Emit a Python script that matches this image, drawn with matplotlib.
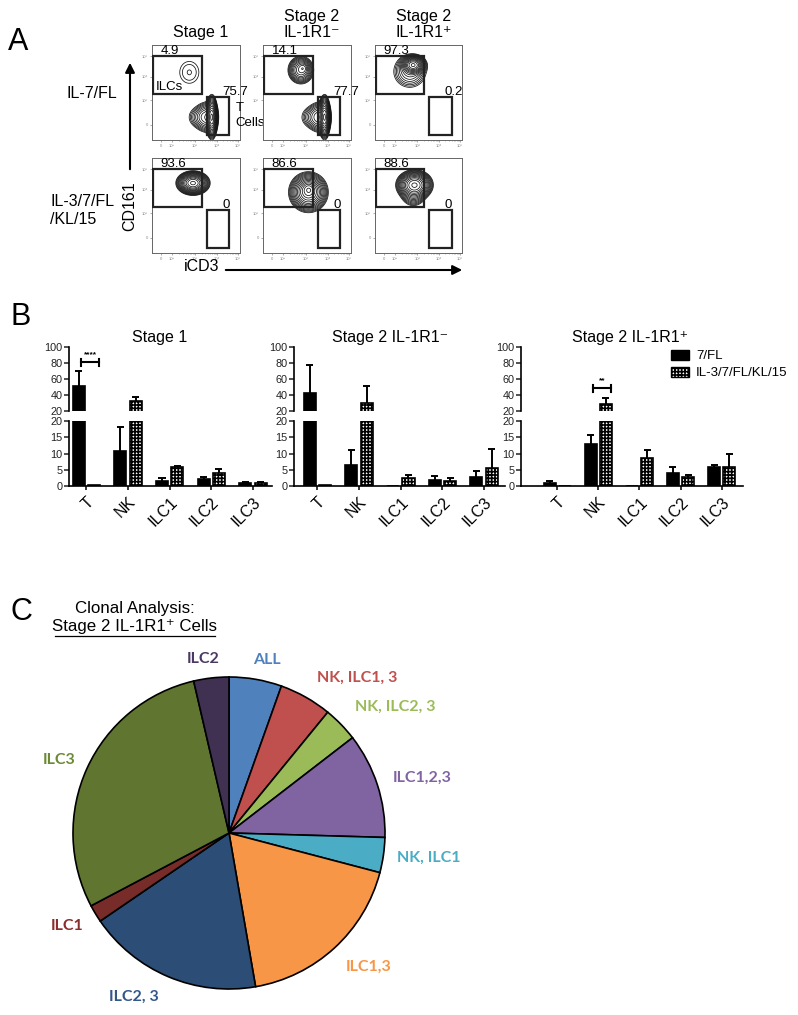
import numpy as np
import matplotlib
matplotlib.use("Agg")
import matplotlib.pyplot as plt
import matplotlib.transforms as mtrans
from matplotlib.patches import Rectangle, Patch, FancyArrowPatch
from matplotlib.lines import Line2D

plt.rcParams['font.family'] = ['Liberation Sans', 'DejaVu Sans']
plt.rcParams['hatch.linewidth'] = 1.2

W, H = 798, 1015
fig = plt.figure(figsize=(W / 100, H / 100), dpi=100)
fig.patch.set_facecolor('white')


def fax(x0, y0, x1, y1):
    return fig.add_axes([x0 / W, 1 - y1 / H, (x1 - x0) / W, (y1 - y0) / H])


def ftext(x, y, s, **kw):
    return fig.text(x / W, 1 - y / H, s, **kw)

# ---------------- DATA ----------------
# Panel A (flow cytometry)
flow_cols = ["Stage 1", "Stage 2\nIL-1R1⁻", "Stage 2\nIL-1R1⁺"]
flow_rows = ["IL-7/FL", "IL-3/7/FL\n/KL/15"]
ilc_pct = [[4.9, 14.1, 97.3], [93.6, 86.6, 88.6]]
t_pct = [[75.7, 77.7, 0.2], [0, 0, 0]]
# population blobs (x, y, sx, sy, weight) in decade units
blobs = [
    [
        [(2.12, 3.56, 0.52, 0.55, 0.05), (3.4, 1.2, 0.13, 0.45, 1.0),
         (3.1, 1.2, 0.3, 0.38, 0.22), (2.75, 1.2, 0.4, 0.33, 0.1)],
        [(2.15, 3.68, 0.32, 0.32, 0.4), (2.3, 3.8, 0.15, 0.15, 0.15), (3.5, 1.2, 0.13, 0.45, 1.0),
         (3.2, 1.2, 0.3, 0.38, 0.22), (2.85, 1.2, 0.4, 0.33, 0.1)],
        [(2.2, 3.95, 0.28, 0.2, 1.0), (2.0, 3.6, 0.5, 0.45, 0.15)],
    ],
    [
        [(2.33, 3.68, 0.36, 0.24, 1.0)],
        [(2.58, 3.2, 0.44, 0.42, 1.0), (2.6, 3.35, 0.2, 0.2, 0.5)],
        [(2.27, 3.58, 0.4, 0.3, 1.0), (2.2, 3.0, 0.35, 0.3, 0.1)],
    ],
]
flow_xtick_labels = ['0', '10²', '10³', '10⁴', '10⁵']
flow_ytick_labels = ['0', '10³', '10⁴', '10⁵']

# Panel B (bar charts)
categories = ["T", "NK", "ILC1", "ILC2", "ILC3"]
stages = ["Stage 1", "Stage 2 IL-1R1⁻", "Stage 2 IL-1R1⁺"]
fl_mean = [[51.8, 10.8, 1.4, 2.2, 1.0],
           [42.0, 6.4, 0.1, 1.9, 2.9],
           [1.0, 13.0, 0.1, 4.1, 6.0]]
fl_err = [[18.8, 7.4, 1.1, 0.6, 0.2],
          [35.7, 4.6, 0.0, 1.1, 1.6],
          [0.4, 2.7, 0.0, 1.7, 0.4]]
cyt_mean = [[0.3, 33.0, 5.8, 4.1, 1.0],
            [0.2, 29.6, 2.4, 1.6, 5.6],
            [0.0, 28.8, 8.5, 2.7, 5.9]]
cyt_err = [[0.0, 4.0, 0.5, 1.2, 0.2],
           [0.0, 21.8, 0.9, 0.9, 5.7],
           [0.0, 7.1, 2.7, 0.8, 4.1]]
series_names = ["7/FL", "IL-3/7/FL/KL/15"]
# significance: (stage index, category index, bracket value, label)
signif = [(0, 0, 81, "****"), (2, 1, 48.5, "**")]

# Panel C (pie)
clone_labels = ["ALL", "NK, ILC1, 3", "NK, ILC2, 3", "ILC1,2,3", "NK, ILC1",
                "ILC1,3", "ILC2, 3", "ILC1", "ILC3", "ILC2"]
clone_counts = [3, 3, 2, 6, 2, 10, 10, 1, 16, 2]
clone_colors = ["#4F81BD", "#C0504D", "#9BBB59", "#8064A2", "#4BACC6",
                "#F79646", "#2C4D75", "#772C2A", "#5F7530", "#403152"]
label_colors = ["#4F81BD", "#C0504D", "#9BBB59", "#8064A2", "#4BACC6",
                "#F79646", "#34578A", "#8A2E2B", "#6B8A35", "#4A3A63"]

# ---------------- PANEL A ----------------
col_px = [(152, 240), (263, 351), (375, 462)]
row_px = [(45, 140), (158, 253)]
xt_pos = [0.51, 1.14, 2.44, 3.69, 4.89]
yt_pos = [0.79, 2.1, 3.32, 4.42]
ilc_gate = (0.03, 2.42, 2.84, 4.42)
t_gate = (3.1, 0.26, 4.4, 2.28)

g = np.linspace(0, 5, 360)
GX, GY = np.meshgrid(g, g)
for r in range(2):
    for c in range(3):
        ax = fax(col_px[c][0], row_px[r][0], col_px[c][1], row_px[r][1])
        Z = np.zeros_like(GX)
        for (x0, y0, sx, sy, w) in blobs[r][c]:
            Z += w * np.exp(-((GX - x0) ** 2 / (2 * sx ** 2) + (GY - y0) ** 2 / (2 * sy ** 2)))
        levels = Z.max() * np.geomspace(0.025, 0.93, 15)
        ax.contour(GX, GY, Z, levels=levels, colors='#111', linewidths=0.55)
        ax.set_xlim(0, 5)
        ax.set_ylim(0, 5)
        for (x0, y0, x1, y1) in (ilc_gate, t_gate):
            ax.add_patch(Rectangle((x0, y0), x1 - x0, y1 - y0, fill=False,
                                   edgecolor='#222', linewidth=1.6, zorder=5))
        ax.text(0.5, ilc_gate[3] - 0.05, f"{ilc_pct[r][c]:g}", fontsize=9.5,
                ha='left', va='bottom', zorder=6)
        ax.text(4.0, t_gate[3] - 0.05, f"{t_pct[r][c]:g}", fontsize=9.5,
                ha='left', va='bottom', clip_on=False, zorder=6)
        ax.set_xticks(xt_pos)
        ax.set_xticklabels(flow_xtick_labels)
        ax.set_yticks(yt_pos)
        ax.set_yticklabels(flow_ytick_labels)
        ax.tick_params(labelsize=3, length=1.5, width=0.5, pad=1.5, colors='#888')
        minors = []
        for a, b in zip(xt_pos[1:-1], xt_pos[2:]):
            minors += [a + np.log10(k) * (b - a) for k in range(2, 10)]
        ax.set_xticks(minors, minor=True)
        ax.tick_params(which='minor', length=1, width=0.4, colors='#888')
        for s in ax.spines.values():
            s.set_linewidth(0.7)
            s.set_color('#666')
        if r == 0 and c == 0:
            ax.text(0.2, 2.5, "ILCs", fontsize=9.5, ha='left', va='bottom')
            ax.text(4.75, 1.68, "T", fontsize=9.5, ha='left', va='center', clip_on=False)
            ax.text(4.75, 0.88, "Cells", fontsize=9.5, ha='left', va='center', clip_on=False)

for c in range(3):
    cx = (col_px[c][0] + col_px[c][1]) / 2 + 5
    ftext(cx, 40, flow_cols[c], fontsize=11.5, ha='center', va='bottom', linespacing=1.05)

ftext(117, 93, flow_rows[0], fontsize=11.5, ha='right', va='center')
ftext(50, 211, flow_rows[1], fontsize=11.5, ha='left', va='center', linespacing=1.25)
ftext(202, 267, "iCD3", fontsize=11.5, ha='center', va='center')

arr1 = FancyArrowPatch((130 / W, 1 - 172 / H), (130 / W, 1 - 60 / H), transform=fig.transFigure,
                       arrowstyle='-|>', mutation_scale=14, linewidth=1.5, color='k')
fig.add_artist(arr1)
arr2 = FancyArrowPatch((223 / W, 1 - 270 / H), (465 / W, 1 - 270 / H), transform=fig.transFigure,
                       arrowstyle='-|>', mutation_scale=14, linewidth=1.5, color='k')
fig.add_artist(arr2)
ftext(130, 206, "CD161", fontsize=11.5, ha='center', va='center', rotation=90,
      bbox=dict(facecolor='white', edgecolor='none', pad=1.5))

# ---------------- PANEL B ----------------
b_px = [(69, 272), (294, 505), (521, 743)]
b_xlim = [(-0.42, 4.46), (-0.56, 4.5), (-0.88, 4.52)]
top_px = (347, 411)
bot_px = (421, 486)
bw = 0.29
off = 0.185
cap = 0.085
title_x = [160, 390, 630]
xpos = np.arange(len(categories))
hatch_pat = '+++++'
lab_shift = mtrans.ScaledTranslation(-5 / 100, 0, fig.dpi_scale_trans)


def draw_err(axt, axb, x, m, e):
    if e <= 0:
        return
    top = m + e
    for ax, lo, hi in ((axb, 0, 20), (axt, 20, 100)):
        if top < lo or m > hi:
            continue
        ax.vlines(x, max(m, lo), min(top, hi), color='k', lw=1.4, zorder=3)
        if lo <= top <= hi:
            ax.hlines(top, x - cap, x + cap, color='k', lw=1.4, zorder=3)


for i in range(3):
    axt = fax(b_px[i][0], top_px[0], b_px[i][1], top_px[1])
    axb = fax(b_px[i][0], bot_px[0], b_px[i][1], bot_px[1])
    for ax, ylim, ticks in ((axt, (20, 100), [20, 40, 60, 80, 100]),
                            (axb, (0, 20), [0, 5, 10, 15, 20])):
        ax.bar(xpos - off, fl_mean[i], bw, color='k', edgecolor='k', linewidth=1.2, zorder=2)
        ax.bar(xpos + off, cyt_mean[i], bw, color='white', edgecolor='k', linewidth=1.2,
               hatch=hatch_pat, zorder=2)
        ax.set_ylim(*ylim)
        ax.set_yticks(ticks)
        ax.set_xlim(*b_xlim[i])
        for s in ('top', 'right'):
            ax.spines[s].set_visible(False)
        ax.spines['left'].set_linewidth(1.2)
        ax.spines['bottom'].set_linewidth(1.2)
        ax.tick_params(axis='y', labelsize=7.8, length=3.5, width=1.1, pad=1.2, colors='#222')
        ax.patch.set_alpha(0)
    for j in range(len(categories)):
        draw_err(axt, axb, xpos[j] - off, fl_mean[i][j], fl_err[i][j])
        draw_err(axt, axb, xpos[j] + off, cyt_mean[i][j], cyt_err[i][j])
    axt.spines['bottom'].set_visible(False)
    axt.set_xticks([])
    axb.set_xticks(xpos)
    axb.set_xticklabels(categories, rotation=45, ha='right', va='top',
                        rotation_mode='anchor', fontsize=11.5)
    for lbl in axb.get_xticklabels():
        lbl.set_transform(lbl.get_transform() + lab_shift)
    axb.tick_params(axis='x', length=3, width=1.1, pad=3)
    ftext(title_x[i], 337, stages[i], fontsize=11.5, ha='center', va='center')
    for (si, ci, yv, lab) in signif:
        if si == i:
            x0, x1 = ci - 0.12, ci + 0.3
            axt.plot([x0, x1], [yv, yv], color='k', lw=1.5, clip_on=False)
            axt.plot([x0, x0], [yv - 4.5, yv + 4.5], color='k', lw=1.5, clip_on=False)
            axt.plot([x1, x1], [yv - 4.5, yv + 4.5], color='k', lw=1.5, clip_on=False)
            axt.text((x0 + x1) / 2, yv + 5, lab, fontsize=6, ha='center', va='bottom',
                     fontweight='bold', clip_on=False)
    if i == 2:
        handles = [Patch(facecolor='k', edgecolor='k'),
                   Patch(facecolor='white', edgecolor='k', hatch=hatch_pat)]
        axt.legend(handles, series_names, loc='upper left',
                   bbox_to_anchor=(671 / W, 1 - 350 / H), bbox_transform=fig.transFigure,
                   frameon=False, fontsize=9.5, handlelength=1.35, handleheight=0.75,
                   handletextpad=0.55, labelspacing=0.35, borderpad=0, borderaxespad=0)

# ---------------- PANEL C ----------------
pcx, pcy, pr = 229, 833, 156
axp = fax(pcx - pr, pcy - pr, pcx + pr, pcy + pr)
axp.pie(clone_counts, colors=clone_colors, startangle=90, counterclock=False,
        wedgeprops=dict(edgecolor='k', linewidth=1.2))
axp.set_xlim(-1, 1)
axp.set_ylim(-1, 1)
axp.set_aspect('equal')
axp.axis('off')

label_px = [(267, 660), (357, 678), (395, 707), (422, 778), (429, 858),
            (369, 967), (134, 997), (67, 926), (59, 760), (203, 659)]
for lab, col, (lx, ly) in zip(clone_labels, label_colors, label_px):
    axp.text((lx - pcx) / pr, (pcy - ly) / pr, lab, color=col, fontsize=11.5,
             fontweight='bold', family=['Lato', 'DejaVu Sans'],
             ha='center', va='center', clip_on=False)

ftext(135, 608, "Clonal Analysis:", fontsize=12.2, ha='center', va='center')
ftext(135, 627, "Stage 2 IL-1R1⁺ Cells", fontsize=12.2, ha='center', va='center')
fig.add_artist(Line2D([55 / W, 215 / W], [1 - 636 / H, 1 - 636 / H], transform=fig.transFigure,
                      color='k', lw=0.9))

# panel letters
ftext(18, 42, "A", fontsize=22, ha='center', va='center')
ftext(21, 317, "B", fontsize=22, ha='center', va='center')
ftext(21, 612, "C", fontsize=22, ha='center', va='center')

fig.savefig("out.png", dpi=100, facecolor='white')
